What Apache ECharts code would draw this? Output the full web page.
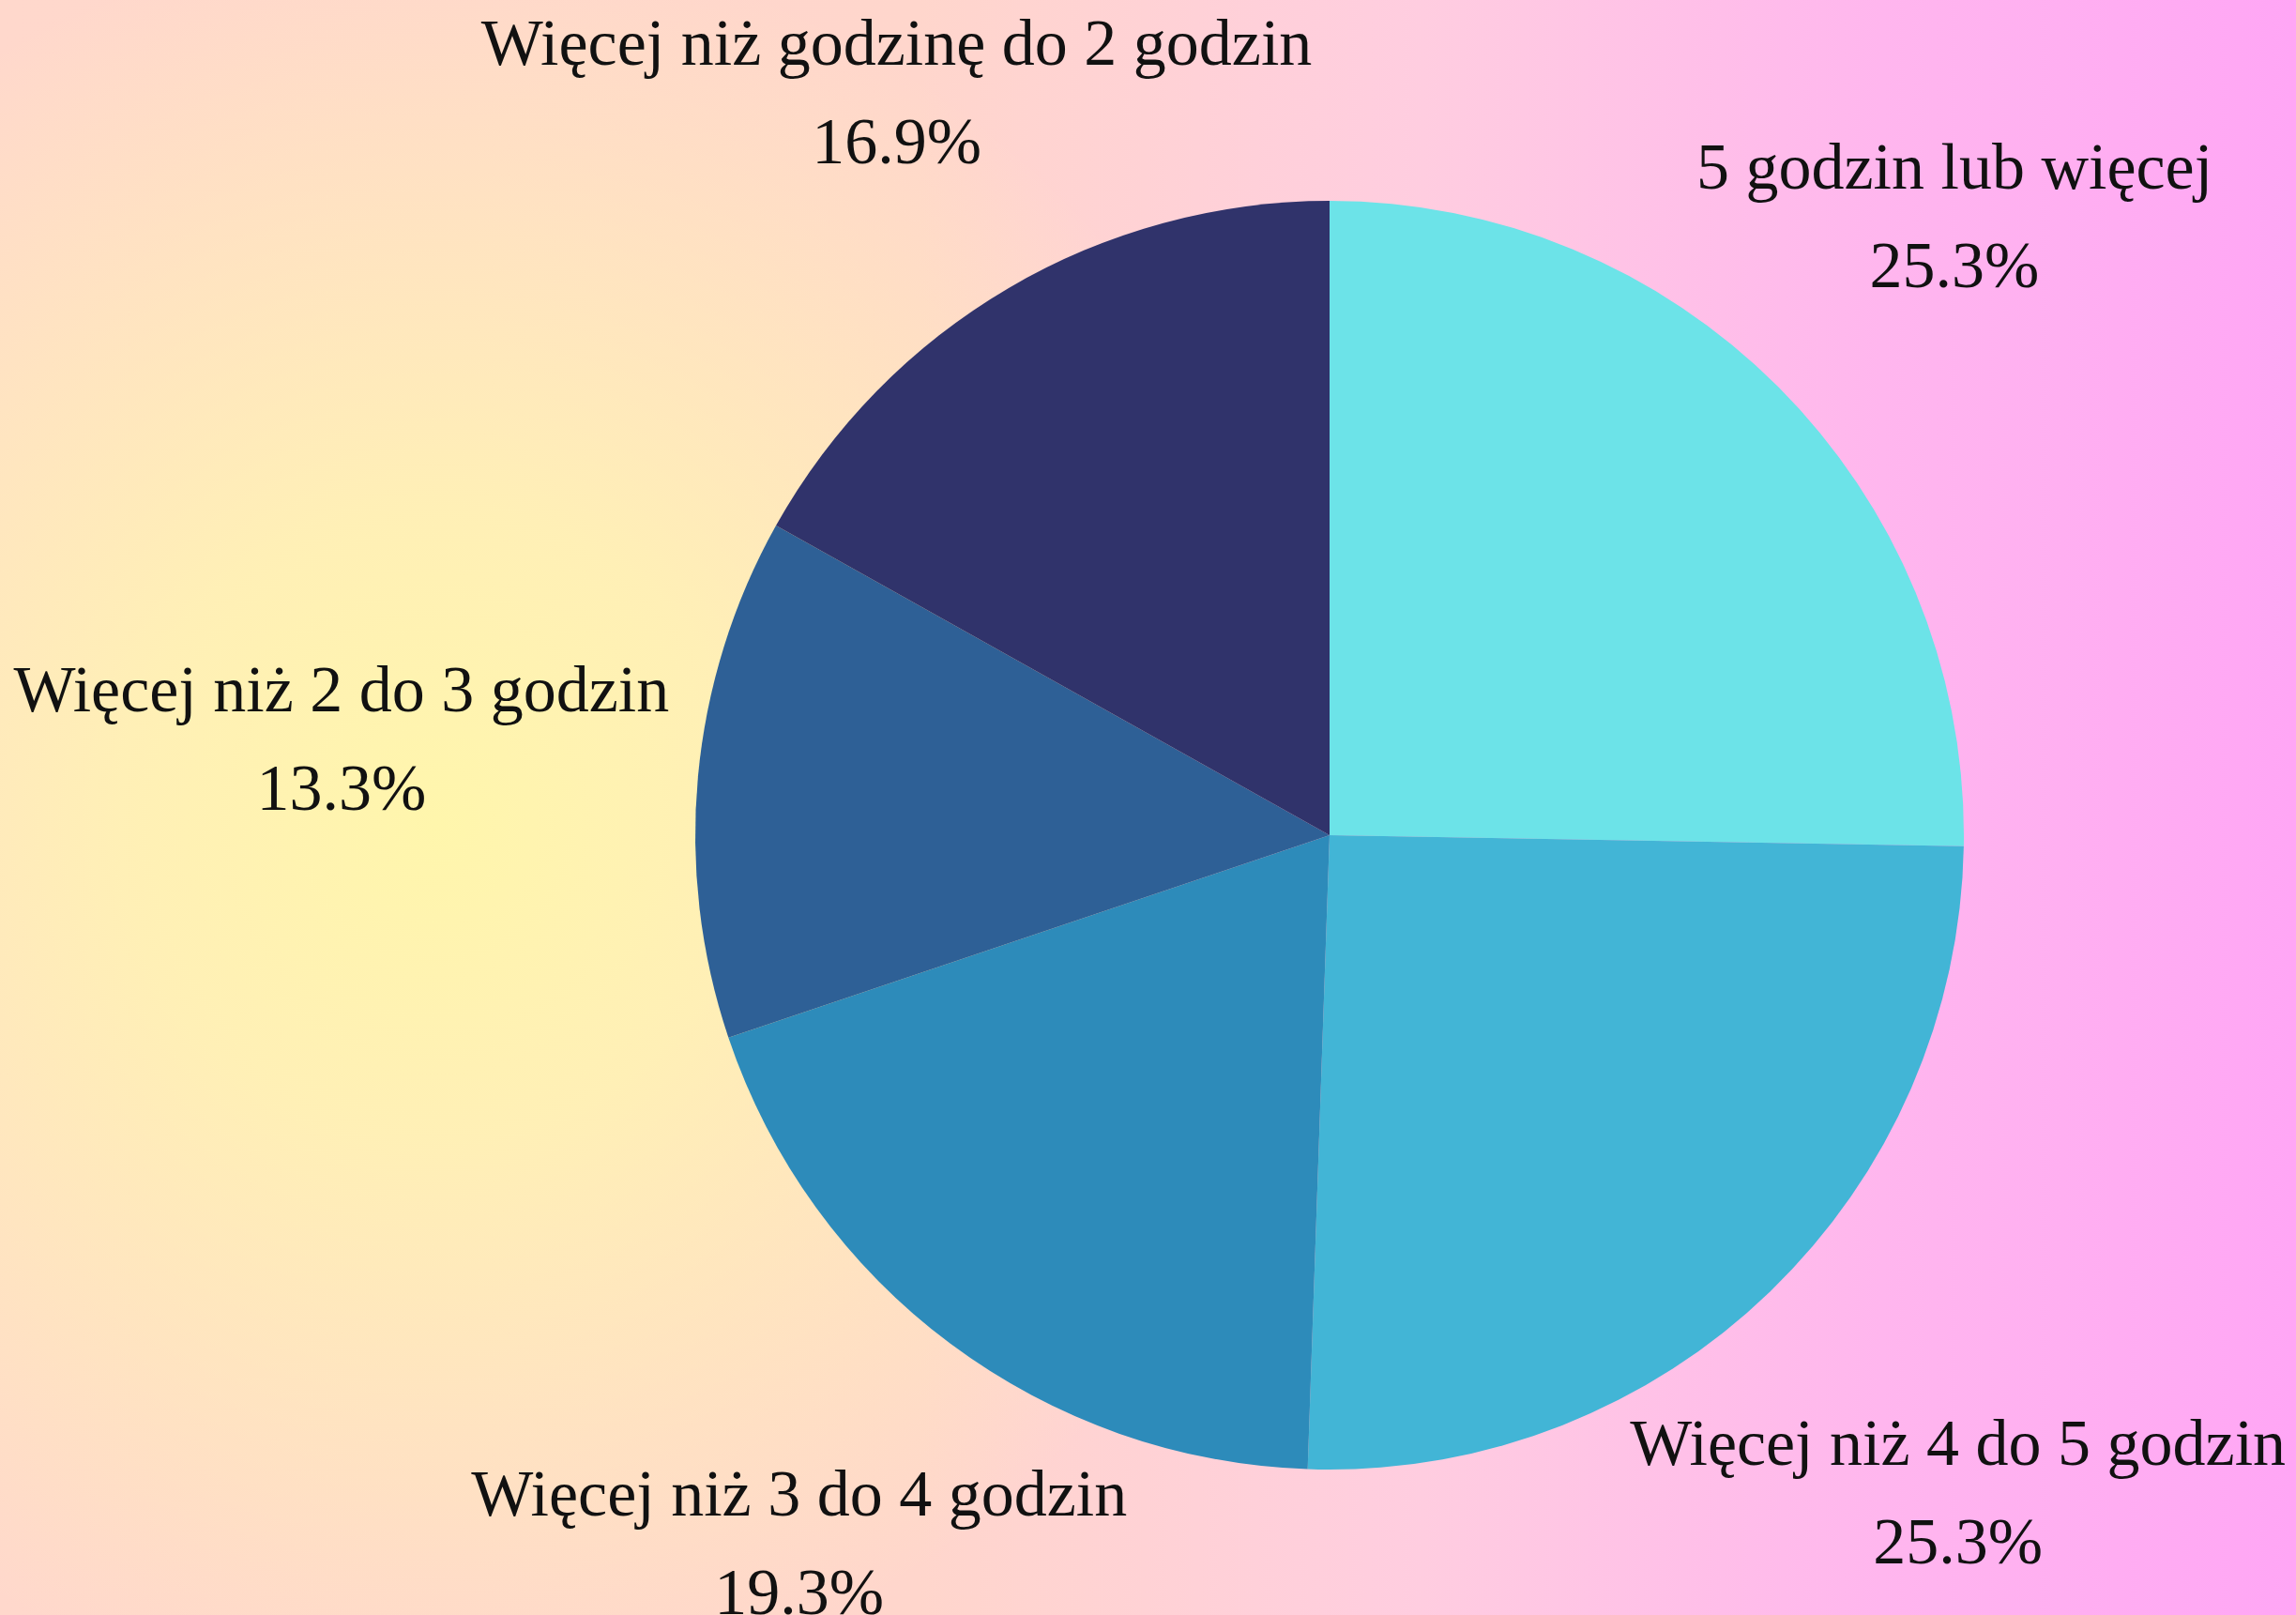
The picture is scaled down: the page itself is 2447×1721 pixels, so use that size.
<!DOCTYPE html>
<html>
<head>
<meta charset="utf-8">
<script src="https://cdn.jsdelivr.net/npm/echarts@6/dist/echarts.min.js"></script>
<style>
    html, body { margin: 0; padding: 0; }
    body {
        width: 2447px; height: 1721px; overflow: hidden;
        background:
            radial-gradient(ellipse 950px 950px at 19% 51%, rgba(255, 246, 172, 1) 0%, rgba(255, 244, 178, 0.85) 35%, rgba(255, 236, 190, 0) 100%),
            linear-gradient(90deg, #ffd8cc 0%, #ffd6cc 40%, #ffcde0 62%, #ffb6ee 82%, #ffa6f5 100%);
    }
    #chart { width: 2447px; height: 1721px; }
</style>
</head>
<body>
<div id="chart"></div>
<script>
var categories = [
    "5 godzin lub więcej",
    "Więcej niż 4 do 5 godzin",
    "Więcej niż 3 do 4 godzin",
    "Więcej niż 2 do 3 godzin",
    "Więcej niż godzinę do 2 godzin"
];
var values = [25.3, 25.3, 19.3, 13.3, 16.9];
var colors = ["#6ce3e8", "#42b5d6", "#2d8bba", "#2e6096", "#30336b"];

var pieCenter = [1417, 890];

var chart = echarts.init(document.getElementById("chart"), null, { renderer: "canvas" });

var pieData = [];
for (var i = 0; i < categories.length; i++) {
    pieData.push({ name: categories[i], value: values[i], itemStyle: { color: colors[i] } });
}

chart.setOption({
    backgroundColor: "transparent",
    animation: false,
    series: [
        {
            type: "pie",
            center: pieCenter,
            radius: 676,
            startAngle: 90,
            clockwise: true,
            data: pieData,
            label: {
                show: true,
                position: "outside",
                overflow: "none",
                formatter: function (p) {
                    return p.name + "\n" + p.value.toFixed(1) + "%";
                },
                fontFamily: "Liberation Serif",
                fontSize: 70,
                lineHeight: 105,
                color: "#111111",
                align: "center"
            },
            labelLine: {
                show: true,
                length: 40,
                length2: 0,
                lineStyle: { opacity: 0 }
            },
            labelLayout: function (params) {
                var pts = params.labelLinePoints;
                if (!pts) return {};
                // pts[0] sits on the slice edge at its mid angle
                var dx = pts[0][0] - pieCenter[0], dy = pts[0][1] - pieCenter[1];
                var len = Math.sqrt(dx * dx + dy * dy) || 1;
                dx /= len; dy /= len;
                var hw = params.labelRect.width / 2, hh = params.labelRect.height / 2;
                // distance from box centre to its edge along the slice direction
                var t = Math.min(Math.abs(dx) > 1e-6 ? hw / Math.abs(dx) : 1e9,
                                 Math.abs(dy) > 1e-6 ? hh / Math.abs(dy) : 1e9);
                var d = 165 + 0.62 * t + 30 * Math.max(0, dy) + 40 * Math.max(0, dx * dy)
                        - 50 * Math.max(0, -dx) * Math.max(0, -dy);
                return {
                    x: pts[0][0] + dx * d,
                    y: pts[0][1] + dy * d,
                    align: "center",
                    verticalAlign: "middle"
                };
            }
        }
    ]
});
</script>
</body>
</html>
